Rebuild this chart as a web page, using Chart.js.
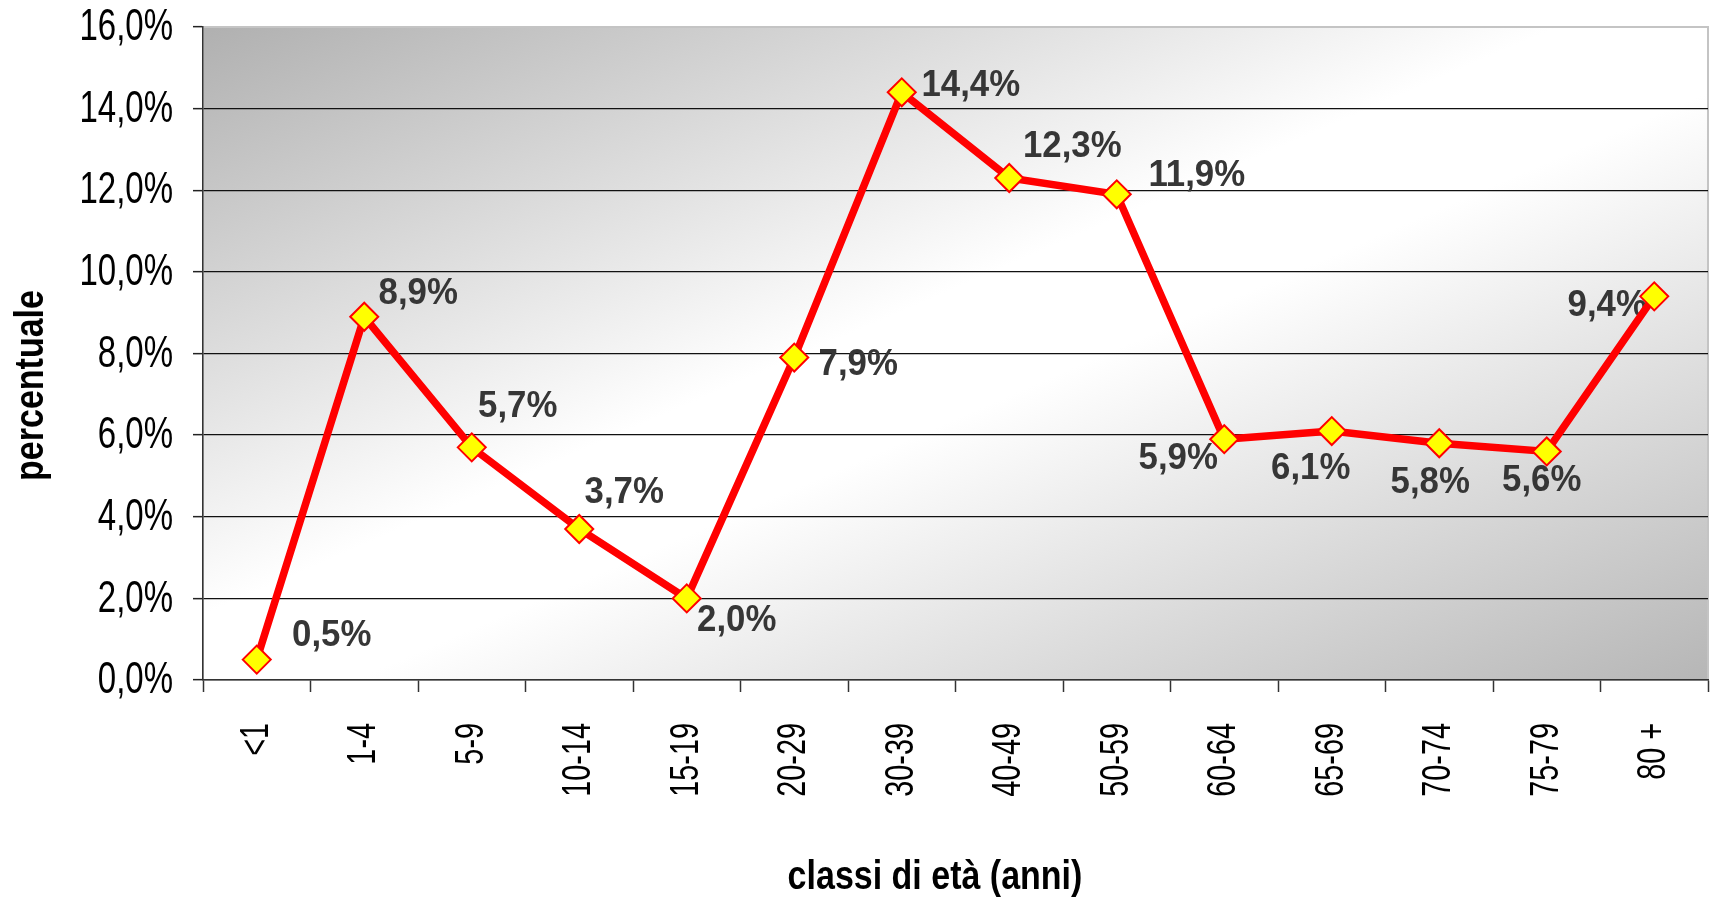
<!DOCTYPE html>
<html>
<head>
<meta charset="utf-8">
<script src="https://cdn.jsdelivr.net/npm/chart.js@4/dist/chart.umd.min.js"></script>
<style>
  html, body { margin: 0; padding: 0; background: #fff; }
  #wrap { width: 1717px; height: 898px; }
</style>
</head>
<body>
<div id="wrap"><canvas id="line-chart"></canvas></div>
<script>
// data
const ageClasses = ["<1", "1-4", "5-9", "10-14", "15-19", "20-29", "30-39", "40-49", "50-59", "60-64", "65-69", "70-74", "75-79", "80 +"];
const percentages = [0.5, 8.9, 5.7, 3.7, 2.0, 7.9, 14.4, 12.3, 11.9, 5.9, 6.1, 5.8, 5.6, 9.4];
const yTicks = [0, 2, 4, 6, 8, 10, 12, 14, 16];

// where each value label sits relative to its point (px)
const labelDx = [75, 54, 46, 45, 50, 64, 69, 63, 80, -46, -21, -9, -5, -47];
const labelDy = [-24, -23, -41, -36, 22, 7, -7, -31, -19, 20, 38, 40, 29, 9];

var sans = "'Liberation Sans', Arial, sans-serif";
var fmt = (v) => v.toFixed(1).replace(".", ",") + "%";

// no narrow font installed: squeeze Liberation Sans along the text direction
function drawNarrow(ctx, text, x, y, opts) {
  ctx.save();
  ctx.translate(x, y);
  if (opts.rotate) ctx.rotate(opts.rotate);
  ctx.scale(opts.squeeze, 1);
  ctx.font = opts.font;
  ctx.fillStyle = opts.color || "#000";
  ctx.textAlign = opts.align || "center";
  ctx.textBaseline = "middle";
  ctx.fillText(text, 0, 0);
  ctx.restore();
}

// grey - white - grey diagonal fill behind the plot
const plotBackground = {
  id: "plotBackground",
  beforeDraw(chart) {
    const { ctx, chartArea: a } = chart;
    const w = a.right - a.left, h = a.bottom - a.top;
    const cx = a.left + w / 2, cy = a.top + h / 2;
    const k = (w * h) / (w * w + h * h);
    const g = ctx.createLinearGradient(cx - h * k, cy - w * k, cx + h * k, cy + w * k);
    g.addColorStop(0, "#b0b0b0");
    g.addColorStop(0.45, "#ffffff");
    g.addColorStop(0.55, "#ffffff");
    g.addColorStop(1, "#b6b6b6");
    ctx.save();
    ctx.fillStyle = g;
    ctx.fillRect(a.left, a.top, w, h);
    ctx.strokeStyle = "#c4c4c4";
    ctx.lineWidth = 2;
    ctx.strokeRect(a.left, a.top, w, h);
    ctx.restore();
  }
};

// value labels, drawn under the line like in the original
const valueLabels = {
  id: "valueLabels",
  beforeDatasetsDraw(chart) {
    const meta = chart.getDatasetMeta(0);
    meta.data.forEach((pt, i) => {
      drawNarrow(chart.ctx, fmt(percentages[i]), pt.x + labelDx[i], pt.y + labelDy[i],
        { squeeze: 0.94, font: "bold 37px " + sans, color: "#363636" });
    });
  }
};

// tick labels and axis titles
const axisText = {
  id: "axisText",
  afterDraw(chart) {
    const { ctx, chartArea: a } = chart;
    const xs = chart.scales.x, ys = chart.scales.y;
    yTicks.forEach((v) => {
      drawNarrow(ctx, fmt(v), a.left - 30, ys.getPixelForValue(v) + 1,
        { squeeze: 0.75, font: "44px " + sans, align: "right" });
    });
    ageClasses.forEach((lab, i) => {
      drawNarrow(ctx, lab, xs.getPixelForValue(i), a.bottom + 43,
        { squeeze: 0.72, font: "40px " + sans, align: "right", rotate: -Math.PI / 2 });
    });
    drawNarrow(ctx, "classi di età (anni)", 935, 878,
      { squeeze: 0.85, font: "bold 40px " + sans });
    drawNarrow(ctx, "percentuale", 32, (a.top + a.bottom) / 2 + 32,
      { squeeze: 0.85, font: "bold 40px " + sans, rotate: -Math.PI / 2 });
  }
};

const config = {
  type: "line",
  data: {
    labels: ageClasses,
    datasets: [{
      data: percentages,
      borderColor: "#ff0000",
      borderWidth: 7.5,
      tension: 0,
      clip: false,
      pointStyle: "rectRot",
      pointRadius: 14,
      pointBackgroundColor: "#ffff00",
      pointBorderColor: "#ff0000",
      pointBorderWidth: 2,
    }]
  },
  options: {
    responsive: false,
    animation: false,
    layout: { autoPadding: false, padding: { top: 27, right: 9, left: 0, bottom: 0 } },
    plugins: { legend: { display: false }, tooltip: { enabled: false } },
    scales: {
      x: {
        offset: true,
        afterFit: (s) => { s.height = 218; },
        grid: {
          offset: true,
          drawOnChartArea: false,
          drawTicks: true,
          tickLength: 12,
          tickColor: "#333",
          tickWidth: 1.5,
        },
        border: { color: "#333", width: 1.5 },
        ticks: { display: false, autoSkip: false },
      },
      y: {
        min: 0,
        max: 16,
        afterFit: (s) => { s.width = 203; },
        afterBuildTicks: (s) => { s.ticks = yTicks.map(v => ({ value: v })); },
        grid: {
          color: (c) => (c.tick && (c.tick.value === 0 || c.tick.value === 16)) ? "rgba(0,0,0,0)" : "#111",
          lineWidth: 1.3,
          tickColor: "#222",
          tickLength: 10,
          tickWidth: 1.5,
        },
        border: { color: "#333", width: 1.5 },
        ticks: { display: false },
      },
    },
  },
  plugins: [plotBackground, valueLabels, axisText],
};

const canvas = document.getElementById("line-chart");
canvas.width = 1717;
canvas.height = 898;
var lineChart = new Chart(canvas.getContext("2d"), config);
</script>
</body>
</html>
